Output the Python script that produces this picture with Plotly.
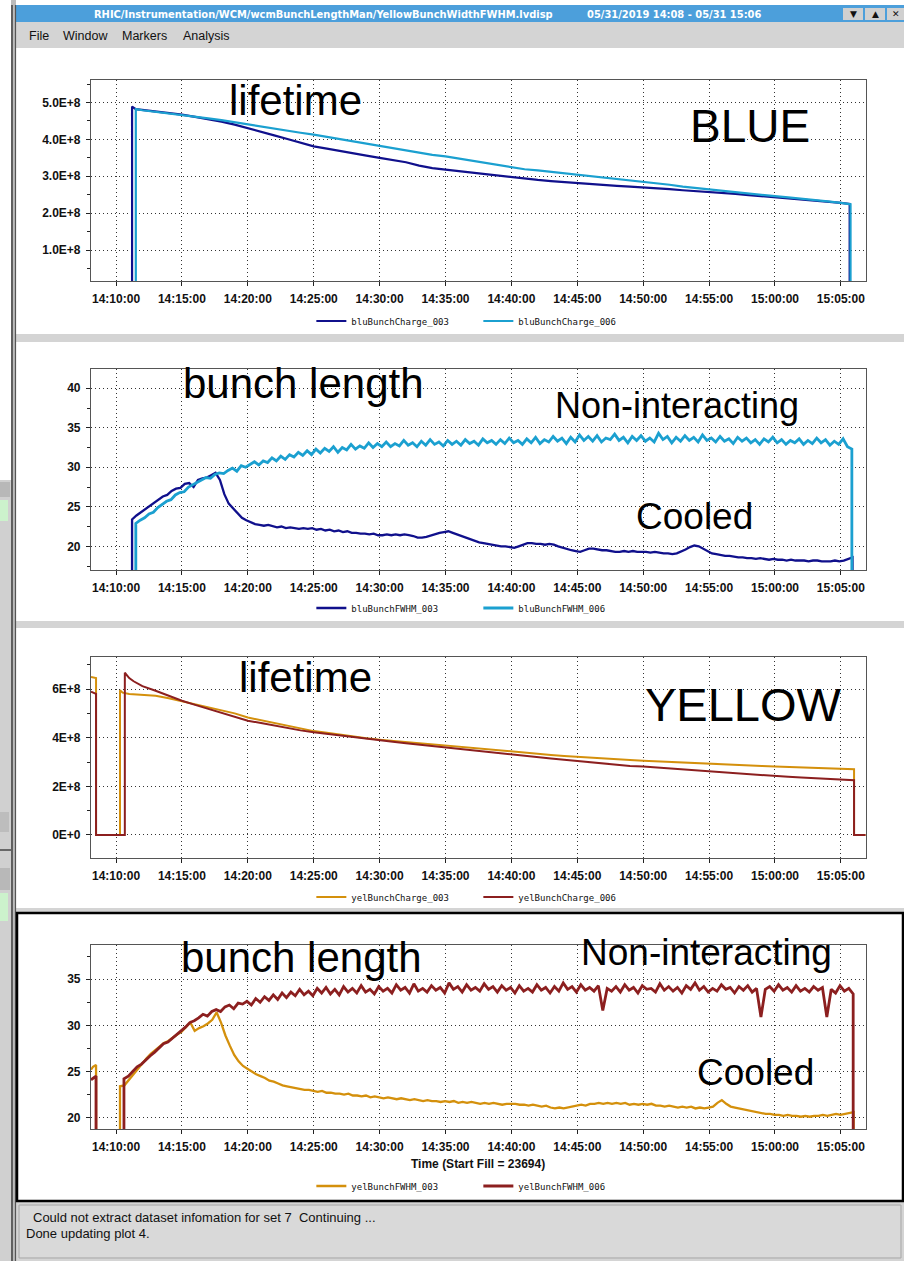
import pandas as pd
import plotly.graph_objects as go

W, H = 904, 1261
DAY = "2019-05-31 "

# ---------------------------------------------------------------- data
# Edge points are (time, value); bodies are regularly sampled values.

# Blue bunch charge (units of 1E+8)
blu_charge_003_lead = [("14:11:13", 0.0), ("14:11:13", 4.89), ("14:11:30", 4.82)]
blu_charge_003_start, blu_charge_003_step = "14:12:00", 60
blu_charge_003 = [4.80, 4.76, 4.72, 4.67, 4.61, 4.55, 4.48, 4.40, 4.31, 4.21,
                  4.11, 4.01, 3.91, 3.81, 3.75, 3.68, 3.62, 3.56, 3.50, 3.44,
                  3.38, 3.29, 3.22, 3.18, 3.14, 3.10, 3.05, 3.00, 2.96, 2.93,
                  2.90, 2.87, 2.84, 2.82, 2.79, 2.77, 2.74, 2.72, 2.70, 2.67,
                  2.65, 2.62, 2.60, 2.57, 2.55, 2.52, 2.49, 2.46, 2.44, 2.41,
                  2.38, 2.35, 2.32, 2.28]
blu_charge_003_tail = [("15:05:40", 2.25), ("15:05:40", 0.0)]

blu_charge_006_lead = [("14:11:30", 0.0), ("14:11:30", 4.82)]
blu_charge_006_start, blu_charge_006_step = "14:12:00", 60
blu_charge_006 = [4.79, 4.75, 4.71, 4.67, 4.62, 4.57, 4.52, 4.46, 4.40, 4.35,
                  4.29, 4.24, 4.18, 4.13, 4.07, 4.01, 3.95, 3.89, 3.83, 3.77,
                  3.71, 3.63, 3.58, 3.54, 3.48, 3.42, 3.36, 3.29, 3.23, 3.19,
                  3.16, 3.12, 3.08, 3.05, 3.01, 2.98, 2.94, 2.90, 2.86, 2.82,
                  2.77, 2.72, 2.68, 2.64, 2.61, 2.57, 2.54, 2.50, 2.46, 2.43,
                  2.40, 2.36, 2.32, 2.28]
blu_charge_006_tail = [("15:05:44", 2.24), ("15:05:44", 0.0)]

# Blue bunch FWHM (ns)
blu_fwhm_003_lead = [("14:11:13", 0.0)]
blu_fwhm_003_start, blu_fwhm_003_step = "14:11:13", 20
blu_fwhm_003 = [23.4, 23.9, 24.3, 24.6, 25.1, 25.4, 25.9, 26.3, 26.5, 27.0, 27.3, 27.4,
                27.9, 28.0, 27.5, 28.4, 28.6, 28.7, 29.0, 29.3, 28.4, 26.6, 25.4, 24.8,
                24.1, 23.6, 23.3, 23.0, 22.8, 22.7, 22.6, 22.7, 22.5, 22.4, 22.5, 22.3,
                22.4, 22.3, 22.2, 22.3, 22.2, 22.3, 22.1, 22.2, 22.0, 22.1, 21.9, 22.0,
                21.8, 21.9, 21.7, 21.7, 21.6, 21.6, 21.5, 21.6, 21.4, 21.4, 21.5, 21.4,
                21.5, 21.4, 21.5, 21.4, 21.3, 21.1, 21.1, 21.2, 21.4, 21.5, 21.7, 21.8,
                21.9, 21.7, 21.5, 21.2, 21.0, 20.8, 20.7, 20.5, 20.4, 20.3, 20.2, 20.1,
                20.0, 20.0, 19.9, 19.8, 20.0, 20.2, 20.4, 20.4, 20.3, 20.3, 20.2, 20.3,
                20.2, 20.0, 19.8, 19.6, 19.5, 19.4, 19.3, 19.5, 19.7, 19.7, 19.6, 19.5,
                19.5, 19.4, 19.3, 19.3, 19.4, 19.3, 19.4, 19.3, 19.3, 19.3, 19.2, 19.3,
                19.2, 19.1, 19.1, 19.0, 19.1, 19.3, 19.6, 19.9, 20.1, 20.0, 19.7, 19.4,
                19.1, 19.0, 18.9, 18.8, 18.8, 18.7, 18.6, 18.6, 18.5, 18.5, 18.4, 18.5,
                18.4, 18.3, 18.4, 18.3, 18.3, 18.2, 18.3, 18.2, 18.2, 18.2, 18.1, 18.2,
                18.2, 18.1, 18.1, 18.1, 18.2, 18.1, 18.2, 18.4, 18.6]
blu_fwhm_003_tail = [("15:05:53", 0.0)]

blu_fwhm_006_lead = [("14:11:30", 0.0)]
blu_fwhm_006_start, blu_fwhm_006_step = "14:11:30", 20
blu_fwhm_006 = [22.9, 23.3, 23.6, 24.1, 24.3, 24.9, 25.3, 25.7, 25.9, 26.5, 26.8, 26.9,
                27.5, 27.8, 28.1, 28.4, 28.7, 28.6, 29.1, 29.3, 29.2, 29.6, 29.9, 29.5,
                30.2, 30.0, 30.4, 30.7, 30.3, 30.8, 30.6, 31.2, 30.8, 31.4, 31.0, 31.6,
                31.3, 31.9, 31.5, 32.1, 31.6, 32.3, 31.8, 32.4, 32.0, 32.6, 31.9, 32.5,
                32.2, 32.9, 32.3, 32.7, 32.4, 33.1, 32.5, 33.0, 32.6, 33.2, 32.6, 33.0,
                32.7, 33.4, 32.8, 33.1, 32.6, 33.3, 32.8, 33.5, 32.9, 33.2, 32.7, 33.4,
                32.9, 33.3, 32.8, 33.5, 33.0, 33.3, 32.8, 33.6, 33.1, 33.4, 32.9, 33.5,
                33.0, 33.7, 33.1, 33.4, 32.9, 33.6, 33.1, 33.8, 33.0, 33.5, 33.2, 33.9,
                33.3, 33.7, 33.0, 33.8, 33.2, 34.1, 33.4, 33.9, 33.3, 34.0, 33.2, 33.7,
                33.5, 34.2, 33.4, 33.8, 33.1, 33.9, 33.4, 34.0, 33.3, 33.7, 33.2, 34.3,
                33.5, 33.9, 33.1, 33.8, 33.3, 34.0, 33.4, 33.8, 33.2, 34.1, 33.4, 33.7,
                33.2, 33.9, 33.3, 33.6, 33.0, 33.8, 33.3, 33.7, 33.1, 33.5, 32.9, 33.6,
                33.2, 33.8, 33.1, 33.5, 32.9, 33.4, 33.1, 33.6, 32.9, 33.4, 33.0, 33.7,
                33.1, 33.5, 32.8, 33.3, 32.9, 33.6, 32.6, 32.3]
blu_fwhm_006_tail = [("15:05:50", 0.0)]

# Yellow bunch charge (units of 1E+8)
yel_charge_003_lead = [("14:08:06", 6.50), ("14:08:29", 6.45), ("14:08:29", 0.0),
                       ("14:10:18", 0.0), ("14:10:18", 5.95), ("14:10:30", 5.85)]
yel_charge_003_start, yel_charge_003_step = "14:11:00", 60
yel_charge_003 = [5.80, 5.77, 5.72, 5.62, 5.50, 5.38, 5.26, 5.13, 5.00, 4.83,
                  4.72, 4.60, 4.48, 4.38, 4.27, 4.20, 4.12, 4.05, 3.98, 3.92,
                  3.87, 3.82, 3.76, 3.71, 3.66, 3.62, 3.57, 3.52, 3.47, 3.42,
                  3.38, 3.34, 3.29, 3.25, 3.21, 3.17, 3.14, 3.11, 3.08, 3.05,
                  3.03, 3.01, 2.98, 2.96, 2.94, 2.91, 2.89, 2.86, 2.84, 2.81,
                  2.79, 2.77, 2.75, 2.73, 2.71, 2.70]
yel_charge_003_tail = [("15:06:00", 0.0), ("15:06:53", 0.0)]

yel_charge_006_lead = [("14:08:06", 5.89), ("14:08:29", 5.80), ("14:08:29", 0.0),
                       ("14:10:40", 0.0), ("14:10:40", 6.67), ("14:10:50", 6.55),
                       ("14:11:00", 6.45), ("14:11:20", 6.32), ("14:11:40", 6.22)]
yel_charge_006_start, yel_charge_006_step = "14:12:00", 60
yel_charge_006 = [6.12, 5.93, 5.72, 5.52, 5.35, 5.18, 5.02, 4.85, 4.70, 4.60,
                  4.49, 4.39, 4.30, 4.22, 4.15, 4.08, 4.01, 3.95, 3.89, 3.83,
                  3.77, 3.71, 3.65, 3.59, 3.53, 3.47, 3.41, 3.35, 3.29, 3.24,
                  3.19, 3.14, 3.09, 3.04, 2.96, 2.91, 2.88, 2.84, 2.81, 2.77,
                  2.72, 2.68, 2.64, 2.60, 2.56, 2.53, 2.49, 2.46, 2.42, 2.39,
                  2.36, 2.33, 2.30, 2.28, 2.25]
yel_charge_006_tail = [("15:06:00", 0.0), ("15:06:53", 0.0)]

# Yellow bunch FWHM (ns)
yel_fwhm_003_lead = [("14:08:06", 25.2), ("14:08:15", 25.5), ("14:08:29", 25.7),
                     ("14:08:29", 0.0), ("14:10:18", 0.0)]
yel_fwhm_003_start, yel_fwhm_003_step = "14:10:18", 20
yel_fwhm_003 = [23.4, 23.5, 24.1, 24.7, 25.3, 25.9, 26.4, 26.9, 27.3, 27.8, 28.1, 28.3,
                28.7, 29.0, 29.3, 29.8, 30.3, 29.4, 29.7, 29.9, 30.2, 30.6, 31.4, 30.3,
                28.9, 27.8, 26.8, 26.1, 25.6, 25.3, 25.0, 24.7, 24.5, 24.3, 24.0, 23.9,
                23.7, 23.5, 23.4, 23.3, 23.2, 23.1, 23.0, 23.0, 22.9, 22.8, 22.9, 22.7,
                22.7, 22.6, 22.6, 22.5, 22.6, 22.4, 22.4, 22.3, 22.4, 22.2, 22.3, 22.2,
                22.1, 22.2, 22.1, 22.0, 22.1, 22.0, 21.9, 22.0, 21.9, 21.8, 21.9, 21.8,
                21.8, 21.7, 21.8, 21.7, 21.8, 21.6, 21.7, 21.6, 21.7, 21.6, 21.5, 21.6,
                21.5, 21.6, 21.5, 21.4, 21.5, 21.5, 21.5, 21.4, 21.4, 21.3, 21.4, 21.3,
                21.2, 21.3, 21.1, 21.0, 21.1, 21.0, 21.1, 21.2, 21.3, 21.4, 21.3, 21.5,
                21.5, 21.6, 21.5, 21.6, 21.5, 21.6, 21.5, 21.6, 21.4, 21.5, 21.4, 21.5,
                21.4, 21.5, 21.3, 21.3, 21.2, 21.3, 21.2, 21.1, 21.2, 21.1, 21.2, 21.0,
                21.1, 21.0, 21.1, 21.2, 21.6, 21.9, 21.5, 21.2, 21.1, 21.0, 20.9, 20.8,
                20.7, 20.6, 20.5, 20.4, 20.4, 20.3, 20.3, 20.2, 20.3, 20.2, 20.2, 20.1,
                20.2, 20.1, 20.2, 20.2, 20.3, 20.2, 20.3, 20.4, 20.3, 20.4, 20.5, 20.6]
yel_fwhm_003_tail = [("15:05:58", 0.0)]

yel_fwhm_006_lead = [("14:08:06", 24.1), ("14:08:20", 24.3), ("14:08:29", 24.5),
                     ("14:08:29", 0.0), ("14:10:36", 0.0)]
yel_fwhm_006_start, yel_fwhm_006_step = "14:10:36", 20
yel_fwhm_006 = [24.2, 24.5, 25.0, 25.5, 25.8, 26.3, 26.7, 27.1, 27.6, 28.0, 28.2, 28.6,
                28.9, 29.3, 29.8, 30.3, 30.5, 30.8, 31.2, 31.0, 31.5, 31.7, 31.5, 32.0,
                32.2, 31.8, 32.4, 32.3, 32.6, 32.2, 32.9, 32.5, 33.1, 32.7, 33.3, 32.8,
                33.5, 33.0, 33.6, 33.2, 33.9, 33.3, 33.7, 33.2, 34.0, 33.5, 34.1, 33.4,
                33.9, 33.3, 34.2, 33.6, 34.0, 33.5, 34.3, 33.6, 33.9, 33.4, 34.2, 33.7,
                34.0, 33.5, 34.4, 33.8, 34.1, 33.5, 34.5, 33.7, 34.0, 33.6, 34.3, 33.8,
                34.1, 33.5, 34.6, 33.9, 34.2, 33.6, 34.4, 33.8, 34.1, 33.7, 34.5, 33.9,
                34.2, 33.6, 34.3, 33.8, 34.1, 33.5, 34.3, 33.7, 34.0, 33.6, 34.4, 33.8,
                34.1, 33.5, 34.2, 33.7, 34.6, 33.9, 34.2, 33.6, 34.4, 33.8, 34.1, 33.7,
                34.3, 31.6, 34.0, 33.7, 34.2, 33.6, 34.4, 33.8, 34.1, 33.5, 34.3, 33.9,
                34.0, 33.6, 34.5, 33.8, 34.2, 33.7, 34.1, 33.5, 34.3, 33.9, 34.6, 33.8,
                34.2, 33.6, 34.0, 33.7, 34.4, 33.9, 34.1, 33.5, 34.2, 33.8, 34.3, 33.6,
                34.0, 30.9, 33.9, 34.2, 33.7, 34.4, 33.8, 34.1, 33.6, 34.3, 33.7, 34.0,
                33.6, 34.2, 33.8, 34.1, 30.9, 33.9, 33.5, 34.3, 33.7, 34.0, 33.4]
yel_fwhm_006_tail = [("15:05:56", 0.0)]

# Axis labelling
time_range = ("14:08:06", "15:06:53")
charge_blue_ticks = [1e8, 2e8, 3e8, 4e8, 5e8]
charge_blue_labels = ["1.0E+8", "2.0E+8", "3.0E+8", "4.0E+8", "5.0E+8"]
charge_yel_ticks = [0, 2e8, 4e8, 6e8]
charge_yel_labels = ["0E+0", "2E+8", "4E+8", "6E+8"]
fwhm_blue_ticks = [20, 25, 30, 35, 40]
fwhm_yel_ticks = [20, 25, 30, 35]

# ---------------------------------------------------------------- helpers
NAVY, CYAN, GOLD, MAROON = "#10108c", "#1ba0d0", "#d4900c", "#8c1f1f"


def ts(hms):
    return pd.Timestamp(DAY + hms)


def build(lead, start, step, body, tail, scale=1.0):
    xs = [ts(t) for t, _ in lead]
    ys = [v * scale for _, v in lead]
    clock = pd.date_range(ts(start), periods=len(body), freq=f"{step}s")
    xs += list(clock)
    ys += [v * scale for v in body]
    xs += [ts(t) for t, _ in tail]
    ys += [v * scale for _, v in tail]
    return xs, ys


def px(x):
    return x / W


def py(y):
    return 1 - y / H


# plot-area pixel boxes: left, top, right, bottom
boxes = [(91, 80, 865.7, 281), (91, 369, 865.7, 570),
         (91, 656.7, 865.7, 858.3), (91, 945, 865.7, 1129.3)]
y_ranges = [(0.16e8, 5.61e8), (17.0, 42.44), (-0.96e8, 7.33e8), (18.74, 38.7)]
legend_y = [321, 608, 897, 1186]

fig = go.Figure()

series = [
    (1, "bluBunchCharge_003", NAVY, 2.2, build(blu_charge_003_lead, blu_charge_003_start, blu_charge_003_step, blu_charge_003, blu_charge_003_tail, 1e8)),
    (1, "bluBunchCharge_006", CYAN, 2.2, build(blu_charge_006_lead, blu_charge_006_start, blu_charge_006_step, blu_charge_006, blu_charge_006_tail, 1e8)),
    (2, "bluBunchFWHM_003", NAVY, 2.3, build(blu_fwhm_003_lead, blu_fwhm_003_start, blu_fwhm_003_step, blu_fwhm_003, blu_fwhm_003_tail)),
    (2, "bluBunchFWHM_006", CYAN, 2.8, build(blu_fwhm_006_lead, blu_fwhm_006_start, blu_fwhm_006_step, blu_fwhm_006, blu_fwhm_006_tail)),
    (3, "yelBunchCharge_003", GOLD, 2.0, build(yel_charge_003_lead, yel_charge_003_start, yel_charge_003_step, yel_charge_003, yel_charge_003_tail, 1e8)),
    (3, "yelBunchCharge_006", MAROON, 2.0, build(yel_charge_006_lead, yel_charge_006_start, yel_charge_006_step, yel_charge_006, yel_charge_006_tail, 1e8)),
    (4, "yelBunchFWHM_003", GOLD, 2.3, build(yel_fwhm_003_lead, yel_fwhm_003_start, yel_fwhm_003_step, yel_fwhm_003, yel_fwhm_003_tail)),
    (4, "yelBunchFWHM_006", MAROON, 2.8, build(yel_fwhm_006_lead, yel_fwhm_006_start, yel_fwhm_006_step, yel_fwhm_006, yel_fwhm_006_tail)),
]

for k, name, color, width, (xs, ys) in series:
    suffix = "" if k == 1 else str(k)
    fig.add_trace(go.Scatter(
        x=xs, y=ys, name=name, mode="lines",
        line=dict(color=color, width=width, shape="linear"),
        xaxis="x" + suffix, yaxis="y" + suffix,
        legend="legend" + suffix,
    ))

tick_font = dict(family="Liberation Sans", size=12, color="#111111", weight="bold")
y_specs = [
    dict(tickvals=charge_blue_ticks, ticktext=charge_blue_labels, minor=dict(dtick=0.5e8)),
    dict(tickvals=fwhm_blue_ticks, ticktext=[str(v) for v in fwhm_blue_ticks], minor=dict(dtick=2.5)),
    dict(tickvals=charge_yel_ticks, ticktext=charge_yel_labels, minor=dict(dtick=1e8)),
    dict(tickvals=fwhm_yel_ticks, ticktext=[str(v) for v in fwhm_yel_ticks], minor=dict(dtick=2.5)),
]

GRID = dict(showgrid=True, gridcolor="#333333", griddash="1px,3px", gridwidth=1)

layout = dict(
    width=W, height=H, margin=dict(l=0, r=0, t=0, b=0, pad=0),
    paper_bgcolor="white", plot_bgcolor="white", showlegend=True,
)

for i, (l, t, r, b) in enumerate(boxes):
    suffix = "" if i == 0 else str(i + 1)
    layout["xaxis" + suffix] = dict(
        domain=[px(l), px(r)], anchor="y" + suffix, type="date",
        range=[ts(time_range[0]), ts(time_range[1])],
        tick0=ts("14:10:00"), dtick=300000, tickformat="%H:%M:%S",
        ticks="outside", ticklen=4, tickcolor="#222", tickwidth=1,
        showline=True, linecolor="#555", linewidth=1.2, mirror=True,
        zeroline=False, tickfont=tick_font, ticklabelstandoff=2, **GRID,
    )
    spec = y_specs[i]
    layout["yaxis" + suffix] = dict(
        domain=[py(b), py(t)], anchor="x" + suffix, range=list(y_ranges[i]),
        tickmode="array", tickvals=spec["tickvals"], ticktext=spec["ticktext"],
        ticks="outside", ticklen=4, tickcolor="#222", tickwidth=1,
        minor=dict(ticks="outside", ticklen=3, tickcolor="#222",
                   dtick=spec["minor"]["dtick"], tick0=0, showgrid=False),
        showline=True, linecolor="#555", linewidth=1.2, mirror=True,
        zeroline=False, tickfont=tick_font, ticklabelstandoff=3, **GRID,
    )
    layout["legend" + suffix] = dict(
        orientation="h", x=px((l + r) / 2), xanchor="center",
        y=py(legend_y[i]), yanchor="middle", bgcolor="rgba(0,0,0,0)",
        font=dict(family="DejaVu Sans Mono", size=9, color="#111"),
        itemwidth=30, entrywidth=122, tracegroupgap=0,
    )

fig.update_layout(**layout)

# ---------------------------------------------------------------- window chrome
GRAY = "#d4d4d4"
rects = [
    (0, 0, 11, 480, "white"),
    (0, 480, 11, H, "#d0d0d0"),
    (0, 482, 10, 497, "#b8b8b8"),
    (0, 500, 8, 521, "#ccf2cc"),
    (0, 812, 9, 832, "#bdbdbd"),
    (0, 868, 10, 890, "#b8b8b8"),
    (0, 893, 8, 921, "#ccf2cc"),
    (11, 0, 16, H, "#bcbcbc"),
    (16, 5, W, 22, "#4c9fdb"),
    (16, 22, W, 48, GRAY),
    (16, 334, W, 342, GRAY),
    (16, 621, W, 628, GRAY),
    (16, 908, W, 912, GRAY),
    (16, 1202, W, H, GRAY),
    (20, 1206, 900, 1257, "#d9d9d9"),
    (843, 8, 863, 20, "#d0d0d0"),
    (865, 8, 885, 20, "#d0d0d0"),
    (887, 8, W, 20, "#d0d0d0"),
]
for x0, y0, x1, y1, color in rects:
    fig.add_shape(type="rect", xref="paper", yref="paper",
                  x0=px(x0), x1=px(x1), y0=py(y1), y1=py(y0),
                  fillcolor=color, line_width=0, layer="below")
# window border lines
for x, c in ((12, "#222"), (15.5, "#555")):
    fig.add_shape(type="line", xref="paper", yref="paper", x0=px(x), x1=px(x),
                  y0=0, y1=py(5), line=dict(color=c, width=1.2))
for y in (850,):
    fig.add_shape(type="line", xref="paper", yref="paper", x0=0, x1=px(11),
                  y0=py(y), y1=py(y), line=dict(color="#222", width=1.2))
# selected plot frame
fig.add_shape(type="rect", xref="paper", yref="paper",
              x0=px(17), x1=px(903), y0=py(1201), y1=py(913),
              line=dict(color="black", width=2.5), fillcolor="rgba(0,0,0,0)")
# status area frame
fig.add_shape(type="rect", xref="paper", yref="paper",
              x0=px(19), x1=px(901), y0=py(1258), y1=py(1205),
              line=dict(color="#a8a8a8", width=1), fillcolor="rgba(0,0,0,0)")

# ---------------------------------------------------------------- texts
def note(text, x, y, size, family="Liberation Sans", color="black", weight="normal",
         xanchor="center", yanchor="middle"):
    fig.add_annotation(text=text, x=px(x), y=py(y), xref="paper", yref="paper",
                       xanchor=xanchor, yanchor=yanchor, showarrow=False,
                       font=dict(family=family, size=size, color=color, weight=weight))


big = [
    ("lifetime", 295, 115, 42), ("BLUE", 750, 142, 46),
    ("bunch length", 303, 398, 42), ("Non-interacting", 677, 418, 36),
    ("Cooled", 694, 529, 37),
    ("lifetime", 305, 692, 42), ("YELLOW", 743, 720, 47),
    ("bunch length", 301, 972, 42), ("Non-interacting", 706, 965, 37),
    ("Cooled", 755, 1085, 37),
]
for text, x, base, size in big:
    note(text, x, base - 0.34 * size, size)

note("Time (Start Fill = 23694)", 478, 1164, 12, weight="bold", color="#111")

note("RHIC/Instrumentation/WCM/wcmBunchLengthMan/YellowBunchWidthFWHM.lvdisp",
     92, 15, 11, family="DejaVu Sans Condensed", color="white", weight="bold", xanchor="left")
note("05/31/2019 14:08 - 05/31 15:06", 585, 15, 11,
     family="DejaVu Sans Condensed", color="white", weight="bold", xanchor="left")
for sym, x in (("▼", 853), ("▲", 875), ("✕", 896)):
    note(sym, x, 14, 9, family="DejaVu Sans", color="#111")

for word, x in (("File", 27), ("Window", 61), ("Markers", 120), ("Analysis", 181)):
    note(word, x, 36, 12.5, family="Liberation Sans", color="#111", xanchor="left")

note("Could not extract dataset infomation for set 7  Continuing ...", 31, 1217, 13,
     color="#111", xanchor="left")
note("Done updating plot 4.", 24, 1233, 13, color="#111", xanchor="left")

fig.write_html("out.html")
